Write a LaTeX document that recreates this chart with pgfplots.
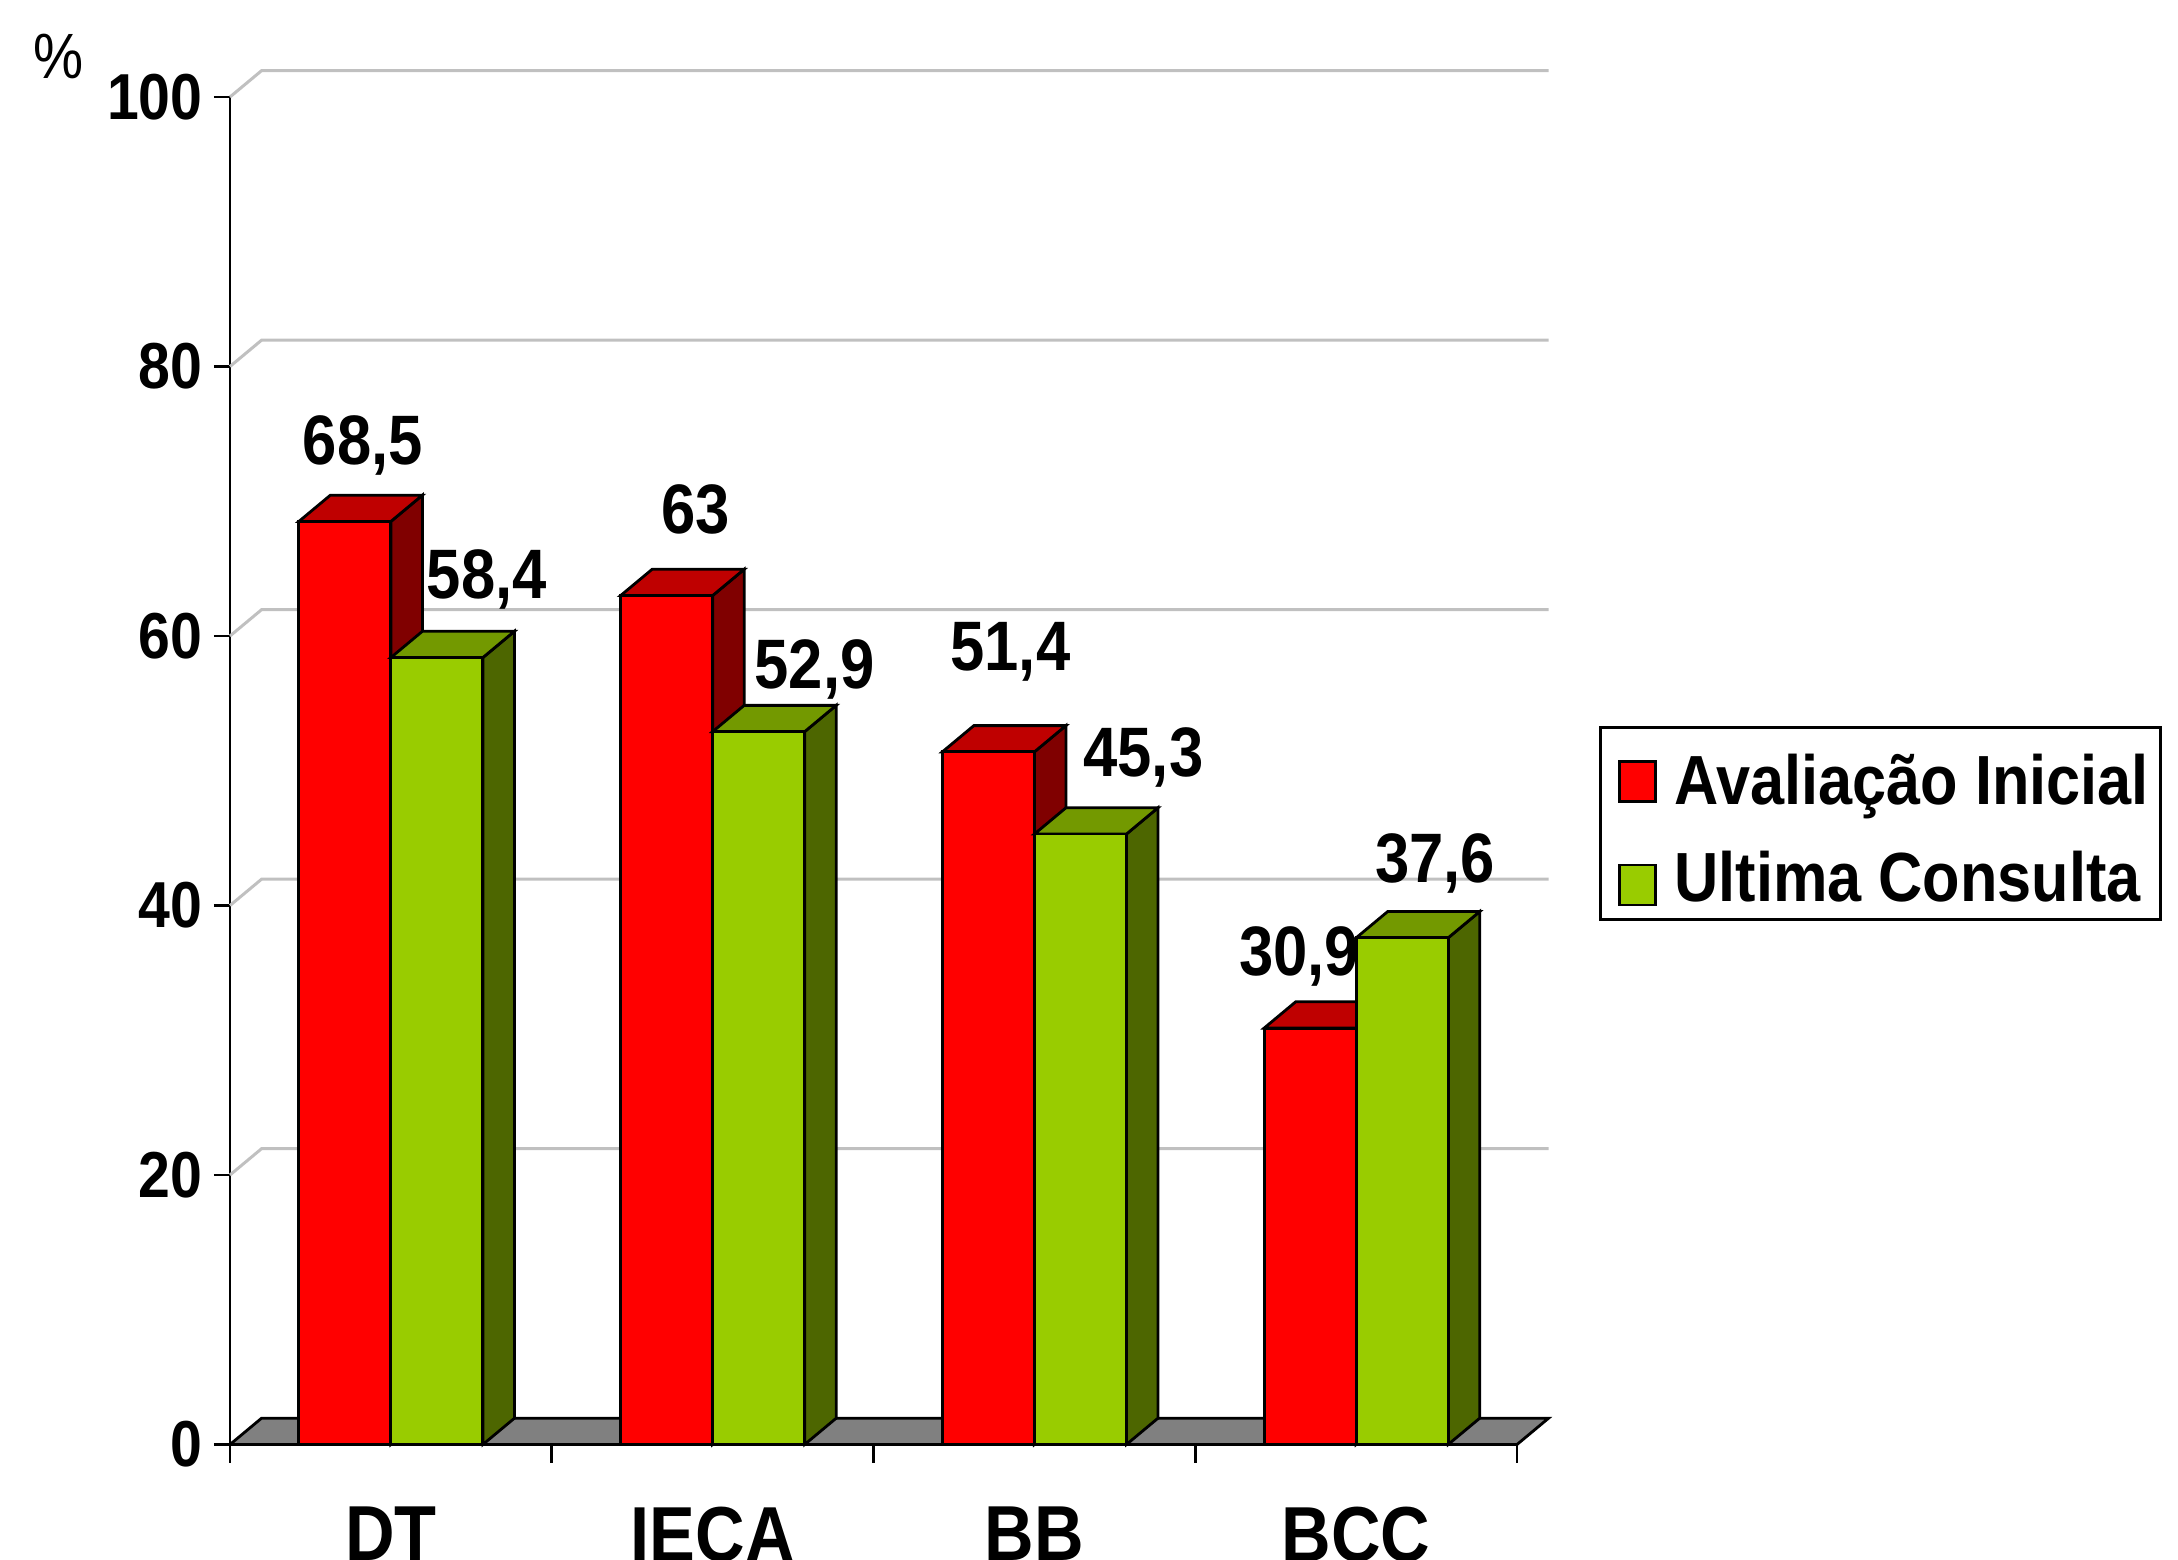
\documentclass[border=0pt]{standalone}
\usepackage{fontspec}
\setmainfont[FakeStretch=0.88]{Liberation Sans}
\usepackage{pgfplots}
\pgfplotsset{compat=1.18}
\definecolor{cred}{HTML}{FF0000}
\definecolor{credtop}{HTML}{BF0000}
\definecolor{credside}{HTML}{800000}
\definecolor{cgreen}{HTML}{99CC00}
\definecolor{cgreentop}{HTML}{739900}
\definecolor{cgreenside}{HTML}{4D6600}
\definecolor{cgrid}{HTML}{C0C0C0}
\definecolor{cfloor}{HTML}{808080}
\newcommand{\lab}{\fontsize{35pt}{40pt}\selectfont\bfseries}
\pgfplotsset{
  face/.style={draw=black,line width=1.4pt,line join=miter,forget plot},
  gridl/.style={draw=cgrid,line width=1.5pt,forget plot},
  limg/.style={legend image code/.code={\draw[##1,line width=1.2pt,draw=black] (5.5pt,-13.5pt) rectangle (23.5pt,6.5pt);\path[draw=none,fill=none] (0pt,0pt)--(31pt,0pt);}}
}
\begin{document}
\begin{tikzpicture}
\useasboundingbox (0,0) rectangle (1089pt,779.5pt);
\begin{axis}[
  at={(115pt,57.25pt)},anchor=south west,
  scale only axis,width=643.5pt,height=673.75pt,
  xmin=-0.5,xmax=3.5,ymin=0,ymax=100,
  clip=false,
  axis lines=left,
  axis line style={-,line width=1.4pt,black},
  tick style={line width=1.4pt,black},
  tick align=outside,
  major tick length=8pt,
  ytick={0,20,40,60,80,100},
  xtick={0,1,2,3},
  xticklabels={DT,IECA,BB,BCC},
  minor xtick={-0.5,0.5,1.5,2.5,3.5},
  x tick style={draw=none},
  minor x tick style={draw=black,line width=1.4pt},
  minor tick length=9pt,
  /pgf/number format/assume math mode=true,
  yticklabel style={font=\fontsize{32.5pt}{38pt}\selectfont\bfseries,inner sep=0pt,xshift=-5.5pt},
  xticklabel style={font=\fontsize{39pt}{44pt}\selectfont\bfseries,inner sep=0pt,anchor=north,yshift=-23pt},
  legend style={at={(1.0637,0.3885)},anchor=south west,draw=black,line width=1.4pt,
    font=\fontsize{34.8pt}{40pt}\selectfont\bfseries,row sep=18pt,inner xsep=4pt,inner ysep=5.5pt},
  legend cell align=left,
]
% gridlines
\addplot[gridl] coordinates {(-0.5,20)(-0.402,21.95)(3.598,21.95)};
\addplot[gridl] coordinates {(-0.5,40)(-0.402,41.95)(3.598,41.95)};
\addplot[gridl] coordinates {(-0.5,60)(-0.402,61.95)(3.598,61.95)};
\addplot[gridl] coordinates {(-0.5,80)(-0.402,81.95)(3.598,81.95)};
\addplot[gridl] coordinates {(-0.5,100)(-0.402,101.95)(3.598,101.95)};
% floor
\addplot[face,fill=cfloor] coordinates {(-0.5,0)(-0.402,1.95)(3.598,1.95)(3.5,0)} -- cycle;
% red sides and tops
\addplot[face,fill=credside] coordinates {(0,68.5)(0.098,70.45)(0.098,1.95)(0,0)} -- cycle;
\addplot[face,fill=credtop] coordinates {(-0.286,68.5)(-0.188,70.45)(0.098,70.45)(0,68.5)} -- cycle;
\addplot[face,fill=credside] coordinates {(1,63)(1.098,64.95)(1.098,1.95)(1,0)} -- cycle;
\addplot[face,fill=credtop] coordinates {(0.714,63)(0.812,64.95)(1.098,64.95)(1,63)} -- cycle;
\addplot[face,fill=credside] coordinates {(2,51.4)(2.098,53.35)(2.098,1.95)(2,0)} -- cycle;
\addplot[face,fill=credtop] coordinates {(1.714,51.4)(1.812,53.35)(2.098,53.35)(2,51.4)} -- cycle;
\addplot[face,fill=credside] coordinates {(3,30.9)(3.098,32.85)(3.098,1.95)(3,0)} -- cycle;
\addplot[face,fill=credtop] coordinates {(2.714,30.9)(2.812,32.85)(3.098,32.85)(3,30.9)} -- cycle;
% red fronts
\addplot[ybar,bar width=46pt,bar shift=-23pt,fill=cred,draw=black,line width=1.4pt,limg] coordinates {(0,68.5)(1,63)(2,51.4)(3,30.9)};
\addlegendentry{\rule{0pt}{31pt}Avaliação Inicial}
% green sides and tops
\addplot[face,fill=cgreenside] coordinates {(0.286,58.4)(0.384,60.35)(0.384,1.95)(0.286,0)} -- cycle;
\addplot[face,fill=cgreentop] coordinates {(0,58.4)(0.098,60.35)(0.384,60.35)(0.286,58.4)} -- cycle;
\addplot[face,fill=cgreenside] coordinates {(1.286,52.9)(1.384,54.85)(1.384,1.95)(1.286,0)} -- cycle;
\addplot[face,fill=cgreentop] coordinates {(1,52.9)(1.098,54.85)(1.384,54.85)(1.286,52.9)} -- cycle;
\addplot[face,fill=cgreenside] coordinates {(2.286,45.3)(2.384,47.25)(2.384,1.95)(2.286,0)} -- cycle;
\addplot[face,fill=cgreentop] coordinates {(2,45.3)(2.098,47.25)(2.384,47.25)(2.286,45.3)} -- cycle;
\addplot[face,fill=cgreenside] coordinates {(3.286,37.6)(3.384,39.55)(3.384,1.95)(3.286,0)} -- cycle;
\addplot[face,fill=cgreentop] coordinates {(3,37.6)(3.098,39.55)(3.384,39.55)(3.286,37.6)} -- cycle;
% green fronts
\addplot[ybar,bar width=46pt,bar shift=23pt,fill=cgreen,draw=black,line width=1.4pt,limg] coordinates {(0,58.4)(1,52.9)(2,45.3)(3,37.6)};
\addlegendentry{Ultima Consulta}
% value labels
\node[font=\lab,inner sep=0pt] at (axis cs:-0.143,68.5) [xshift=9pt,yshift=38pt] {68,5};
\node[font=\lab,inner sep=0pt] at (axis cs:0.143,58.4) [xshift=25pt,yshift=39pt] {58,4};
\node[font=\lab,inner sep=0pt] at (axis cs:0.857,63) [xshift=14.5pt,yshift=43pt] {63};
\node[font=\lab,inner sep=0pt] at (axis cs:1.143,52.9) [xshift=28pt,yshift=31pt] {52,9};
\node[font=\lab,inner sep=0pt] at (axis cs:1.857,51.4) [xshift=11pt,yshift=50pt] {51,4};
\node[font=\lab,inner sep=0pt] at (axis cs:2.143,45.3) [xshift=31.5pt,yshift=38.5pt] {45,3};
\node[font=\lab,inner sep=0pt] at (axis cs:2.857,30.9) [xshift=-5.5pt,yshift=36pt] {30,9};
\node[font=\lab,inner sep=0pt] at (axis cs:3.143,37.6) [xshift=16.5pt,yshift=37pt] {37,6};
\end{axis}
\node[font=\fontsize{32pt}{36pt}\selectfont,inner sep=0pt] at (29.5pt,751.5pt) {\%};
\end{tikzpicture}
\end{document}
